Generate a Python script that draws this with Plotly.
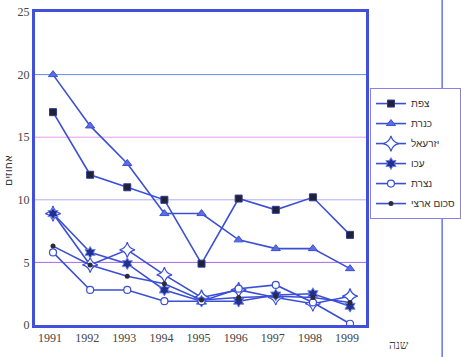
import plotly.graph_objects as go

years = [1991, 1992, 1993, 1994, 1995, 1996, 1997, 1998, 1999]
tzfat = [17.0, 12.0, 11.0, 10.0, 4.9, 10.1, 9.2, 10.2, 7.2]
kineret = [20.0, 15.9, 12.9, 8.9, 8.9, 6.8, 6.1, 6.1, 4.5]
yizreel = [8.9, 4.8, 6.0, 4.0, 2.2, 2.8, 2.2, 1.7, 2.3]
akko = [8.9, 5.8, 4.9, 2.8, 1.9, 1.9, 2.4, 2.5, 1.5]
natzrat = [5.8, 2.8, 2.8, 1.9, 1.9, 2.9, 3.2, 1.8, 0.1]
national = [6.3, 4.8, 3.9, 3.3, 2.0, 2.2, 2.3, 2.2, 1.8]

series_names = ["צפת", "כנרת", "יזרעאל", "עכו", "נצרת", "סכום ארצי"]
y_ticks = [0, 5, 10, 15, 20, 25]
grid_levels = [5, 10, 15, 20]
grid_colors = ["#a868e8", "#b0b0f2", "#e59bf0", "#5b8ef0"]

LINE = "#3b4fd6"
styles = [
    dict(symbol="square", size=7, color="#222233", line=dict(color="#2a3a9a", width=1)),
    dict(symbol="triangle-up", size=8, color="#5a6ee0", line=dict(color="#3b4fd6", width=1)),
    dict(symbol="star-diamond", size=11, color="white", line=dict(color="#3b4fd6", width=1.2)),
    dict(symbol="hexagram", size=9, color="#23308f", line=dict(color="#6f86ee", width=1)),
    dict(symbol="circle", size=7, color="white", line=dict(color="#3b4fd6", width=1.2)),
    dict(symbol="circle", size=5, color="#2b2b3a", line=dict(color="#2b2b3a", width=0)),
]

data = [tzfat, kineret, yizreel, akko, natzrat, national]

fig = go.Figure()
for i, (name, vals, st) in enumerate(zip(series_names, data, styles)):
    fig.add_trace(go.Scatter(
        x=years, y=vals, name=name, mode="lines+markers",
        legendgroup=f"g{i}",
        line=dict(color=LINE, width=1.6),
        marker=st,
    ))

font_serif = "Liberation Serif, DejaVu Serif, serif"

shapes = [
    dict(type="line", xref="paper", yref="y", x0=0, x1=1, y0=lv, y1=lv,
         line=dict(color=c, width=1), layer="below")
    for lv, c in zip(grid_levels, grid_colors)
]
shapes.append(
    dict(type="line", xref="paper", yref="paper", x0=1.23, x1=1.23, y0=-0.11, y1=1.04,
         line=dict(color="#4050d8", width=1.2), layer="below")
)

fig.update_layout(
    width=461, height=357,
    margin=dict(l=35, r=95, t=12, b=32, autoexpand=False),
    paper_bgcolor="white", plot_bgcolor="white",
    showlegend=True,
    font=dict(family=font_serif, size=12, color="#333"),
    legend=dict(
        x=1.012, y=0.757, xanchor="left", yanchor="top",
        bgcolor="white", bordercolor="#8a7ee8", borderwidth=1,
        font=dict(family="Liberation Sans, Arial, sans-serif", size=10, color="#333"),
        itemwidth=30, tracegroupgap=1,
    ),
    xaxis=dict(
        range=[1990.515, 1999.43], tickmode="array", tickvals=years,
        ticktext=[str(y) for y in years], showgrid=False, zeroline=False,
        showline=True, linecolor="#4050d8", linewidth=3, mirror=True,
        ticks="", tickfont=dict(family=font_serif, size=12, color="#444"),
        ticklabelshift=-3, automargin=False,
    ),
    yaxis=dict(
        range=[0, 25], tickvals=y_ticks, showgrid=False,
        zeroline=False, showline=True, linecolor="#4050d8",
        linewidth=3, mirror=True, ticks="", automargin=False,
        tickfont=dict(family=font_serif, size=12, color="#444"),
    ),
    shapes=shapes,
    annotations=[
        dict(text="שנה", xref="paper", yref="paper", x=1.10, y=-0.064, showarrow=False,
             xanchor="center", yanchor="middle", font=dict(family=font_serif, size=12, color="#444")),
        dict(text="אחוזים", xref="paper", yref="paper", x=-0.082, y=0.495, showarrow=False,
             textangle=-90, xanchor="center", yanchor="middle",
             font=dict(family="DejaVu Sans, sans-serif", size=11, color="#333")),
    ],
)

fig.write_html("out.html", config={"displayModeBar": False},
               post_script="document.body.style.margin='0';document.body.style.padding='0';")
